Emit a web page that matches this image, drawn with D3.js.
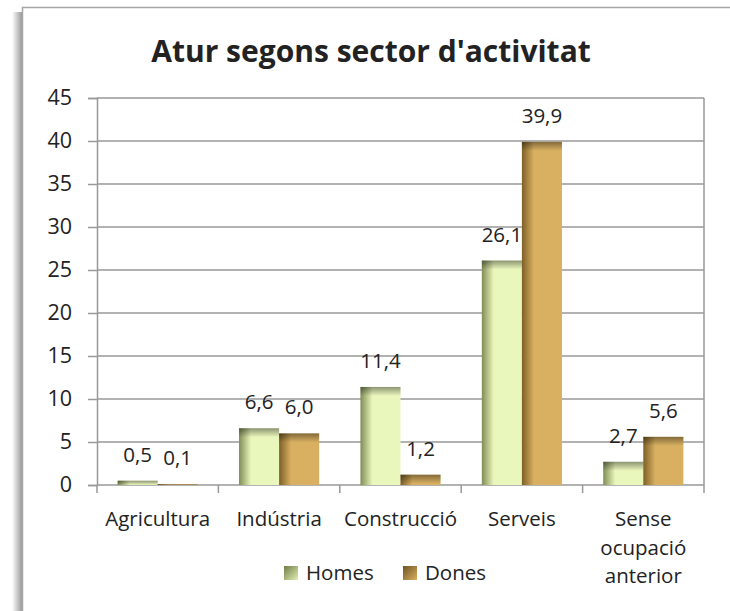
<!DOCTYPE html>
<html>
<head>
<meta charset="utf-8">
<script src="https://cdn.jsdelivr.net/npm/d3@7"></script>
<style>
  body { margin: 0; background: #fff; }
  text { font-family: "Open Sans", sans-serif; fill: #222; }
</style>
</head>
<body>
<script>
// Atur segons sector d'activitat - grouped bars

const categories = ["Agricultura", "Indústria", "Construcció", "Serveis", "Sense ocupació anterior"];
const homes = [0.5, 6.6, 11.4, 26.1, 2.7];
const dones = [0.1, 6.0, 1.2, 39.9, 5.6];
const seriesNames = ["Homes", "Dones"];
const yTicks = [0, 5, 10, 15, 20, 25, 30, 35, 40, 45];

const width = 730, height = 611;
const margin = {top: 98, right: 26, bottom: 126, left: 97};
const innerW = width - margin.left - margin.right;
const innerH = height - margin.top - margin.bottom;
const fontSize = "20.5px";

const svg = d3.select("body").append("svg")
  .attr("width", width)
  .attr("height", height);

const defs = svg.append("defs");

// bar gradients (dark left edge, like the excel shading)
const makeGrad = (id, dark, light) => {
  const g = defs.append("linearGradient").attr("id", id)
    .attr("x1", "0%").attr("x2", "100%").attr("y1", "0%").attr("y2", "0%");
  g.append("stop").attr("offset", "0%").attr("stop-color", dark);
  g.append("stop").attr("offset", "30%").attr("stop-color", light);
  g.append("stop").attr("offset", "100%").attr("stop-color", light);
};
makeGrad("gHomes", "#7f8c55", "#eaf7bc");
makeGrad("gDones", "#7d5f27", "#d9b061");

const topShade = defs.append("linearGradient").attr("id", "gTop")
  .attr("x1", "0%").attr("x2", "0%").attr("y1", "0%").attr("y2", "100%");
topShade.append("stop").attr("offset", "0%").attr("stop-color", "#000").attr("stop-opacity", 0.4);
topShade.append("stop").attr("offset", "100%").attr("stop-color", "#000").attr("stop-opacity", 0);

const legGrad = (id, dark, light) => {
  const g = defs.append("linearGradient").attr("id", id)
    .attr("x1", "0%").attr("x2", "100%").attr("y1", "0%").attr("y2", "100%");
  g.append("stop").attr("offset", "0%").attr("stop-color", dark);
  g.append("stop").attr("offset", "100%").attr("stop-color", light);
};
legGrad("lHomes", "#6f7b48", "#e3f1b2");
legGrad("lDones", "#6e5220", "#d9b061");

const shadow = defs.append("linearGradient").attr("id", "gShadow")
  .attr("x1", "0%").attr("x2", "100%");
shadow.append("stop").attr("offset", "0%").attr("stop-color", "#fff");
shadow.append("stop").attr("offset", "100%").attr("stop-color", "#9a9a9a");

// chart frame with shadow on the left
svg.append("rect")
  .attr("x", 12).attr("y", 12).attr("width", 10).attr("height", height)
  .attr("fill", "url(#gShadow)");
svg.append("rect")
  .attr("x", 22.5).attr("y", 7.5).attr("width", width + 10).attr("height", height + 10)
  .attr("fill", "#fff").attr("stroke", "#a6a6a6").attr("stroke-width", 1.5);

// title
svg.append("text")
  .attr("x", 371).attr("y", 62)
  .attr("text-anchor", "middle")
  .style("font-size", "30px").style("font-weight", "bold")
  .text("Atur segons sector d'activitat");

const g = svg.append("g").attr("transform", `translate(${margin.left},${margin.top})`);

const x0 = d3.scaleBand().domain(categories).range([0, innerW]).paddingInner(0.34).paddingOuter(0.17);
const x1 = d3.scaleBand().domain(seriesNames).range([0, x0.bandwidth()]);
const y = d3.scaleLinear().domain([0, 45]).range([innerH, 0]);

// gridlines
g.append("g")
  .selectAll("line")
  .data(yTicks.filter(d => d > 0))
  .join("line")
  .attr("x1", 0).attr("x2", innerW)
  .attr("y1", d => y(d)).attr("y2", d => y(d))
  .attr("stroke", "#999").attr("stroke-width", 1.5);

// right border of plot area
g.append("line")
  .attr("x1", innerW).attr("x2", innerW).attr("y1", 0).attr("y2", innerH)
  .attr("stroke", "#999").attr("stroke-width", 1.5);

// y axis
const yAxis = g.append("g")
  .call(d3.axisLeft(y).tickValues(yTicks).tickSize(9).tickPadding(16).tickFormat(d3.format("d")));
yAxis.select(".domain").attr("stroke", "#999").attr("stroke-width", 1.5);
yAxis.selectAll(".tick line").attr("stroke", "#999").attr("stroke-width", 1.5);
yAxis.selectAll("text").style("font-size", "21.5px").attr("fill", "#222").style("font-family", "'Open Sans', sans-serif");

// x axis (ticks between categories)
const xAxisG = g.append("g").attr("transform", `translate(0,${innerH})`);
xAxisG.append("line").attr("x1", 0).attr("x2", innerW)
  .attr("stroke", "#999").attr("stroke-width", 1.5);
const step = x0.step();
xAxisG.selectAll(".xt")
  .data(d3.range(categories.length + 1))
  .join("line")
  .attr("class", "xt")
  .attr("x1", i => i * step).attr("x2", i => i * step)
  .attr("y1", 0).attr("y2", 8)
  .attr("stroke", "#999").attr("stroke-width", 1.5);

const xLabels = xAxisG.selectAll(".xl")
  .data(categories)
  .join("text")
  .attr("class", "xl")
  .attr("text-anchor", "middle")
  .attr("x", d => x0(d) + x0.bandwidth() / 2)
  .attr("y", 41)
  .style("font-size", fontSize);
xLabels.each(function(d) {
  const words = d === "Sense ocupació anterior" ? ["Sense", "ocupació", "anterior"] : [d];
  const t = d3.select(this);
  words.forEach((w, i) => {
    t.append("tspan").attr("x", x0(d) + x0.bandwidth() / 2).attr("dy", i === 0 ? 0 : 28.5).text(w);
  });
});

// bars
const rows = categories.map((c, i) => ({cat: c, values: [
  {key: "Homes", v: homes[i]}, {key: "Dones", v: dones[i]}]}));

const groups = g.selectAll(".grp")
  .data(rows)
  .join("g")
  .attr("class", "grp")
  .attr("transform", d => `translate(${x0(d.cat)},0)`);

groups.selectAll(".bar")
  .data(d => d.values)
  .join("rect")
  .attr("class", "bar")
  .attr("x", d => x1(d.key))
  .attr("y", d => y(d.v))
  .attr("width", x1.bandwidth())
  .attr("height", d => innerH - y(d.v))
  .attr("fill", d => d.key === "Homes" ? "url(#gHomes)" : "url(#gDones)");

groups.selectAll(".topshade")
  .data(d => d.values)
  .join("rect")
  .attr("class", "topshade")
  .attr("x", d => x1(d.key))
  .attr("y", d => y(d.v))
  .attr("width", x1.bandwidth())
  .attr("height", d => Math.min(9, innerH - y(d.v)))
  .attr("fill", "url(#gTop)");

groups.selectAll(".lbl")
  .data(d => d.values)
  .join("text")
  .attr("class", "lbl")
  .attr("text-anchor", "middle")
  .attr("x", d => x1(d.key) + x1.bandwidth() / 2)
  .attr("y", d => y(d.v) - 19)
  .style("font-size", fontSize)
  .text(d => d3.format(".1f")(d.v).replace(".", ","));

// legend
const legend = svg.append("g").attr("transform", "translate(284,566)");
const legItems = legend.selectAll("g")
  .data(seriesNames)
  .join("g")
  .attr("transform", (d, i) => `translate(${i * 119},0)`);
legItems.append("rect")
  .attr("width", 14).attr("height", 14)
  .attr("fill", d => d === "Homes" ? "url(#lHomes)" : "url(#lDones)");
legItems.append("text")
  .attr("x", 22).attr("y", 14)
  .style("font-size", fontSize)
  .text(d => d);
</script>
</body>
</html>
